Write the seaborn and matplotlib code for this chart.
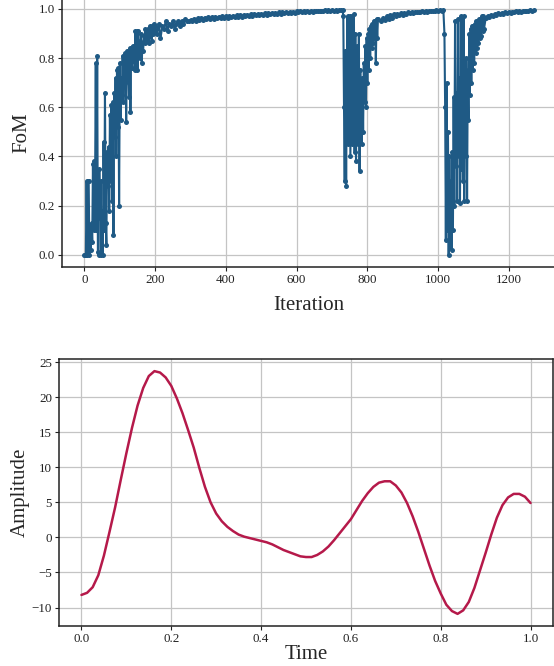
import matplotlib
matplotlib.use("Agg")
import matplotlib.pyplot as plt
import seaborn as sns
import pandas as pd

# ---------------- data: top panel (FoM vs iteration) ----------------
iter_a = list(range(0, 202, 2))
fom_a = [0.00, 0.00, 0.00, 0.30, 0.00, 0.30, 0.30, 0.00, 0.12, 0.02,
         0.13, 0.05, 0.37, 0.10, 0.38, 0.27, 0.78, 0.10, 0.81, 0.01,
         0.00, 0.35, 0.15, 0.30, 0.00, 0.18, 0.00, 0.46, 0.10, 0.66,
         0.13, 0.04, 0.42, 0.28, 0.44, 0.18, 0.57, 0.30, 0.61, 0.22,
         0.62, 0.08, 0.66, 0.48, 0.72, 0.40, 0.75, 0.52, 0.76, 0.20,
         0.78, 0.55, 0.72, 0.65, 0.81, 0.62, 0.80, 0.70, 0.82, 0.54,
         0.83, 0.71, 0.82, 0.64, 0.84, 0.58, 0.83, 0.76, 0.85, 0.79,
         0.84, 0.75, 0.91, 0.80, 0.91, 0.75, 0.91, 0.83, 0.87, 0.80,
         0.90, 0.78, 0.86, 0.83, 0.89, 0.86, 0.92, 0.87, 0.91, 0.88,
         0.92, 0.86, 0.93, 0.89, 0.92, 0.87, 0.93, 0.90, 0.94, 0.91,
         0.93]
iter_b = list(range(205, 300, 5)) + list(range(300, 735, 5))
fom_b = [0.90, 0.94, 0.88, 0.93, 0.92, 0.95, 0.91, 0.94, 0.93, 0.95,
         0.92, 0.94, 0.95, 0.93, 0.95, 0.94, 0.96, 0.95, 0.95,
         0.955, 0.95, 0.96, 0.952, 0.962, 0.955, 0.963, 0.957, 0.965, 0.958,
         0.966, 0.96, 0.967, 0.961, 0.968, 0.962, 0.969, 0.963, 0.97, 0.964,
         0.97, 0.965, 0.972, 0.966, 0.973, 0.967, 0.974, 0.968, 0.975, 0.969,
         0.976, 0.97, 0.977, 0.972, 0.978, 0.973, 0.979, 0.974, 0.98, 0.975,
         0.981, 0.976, 0.982, 0.977, 0.983, 0.978, 0.984, 0.979, 0.985, 0.98,
         0.986, 0.981, 0.987, 0.982, 0.988, 0.983, 0.988, 0.984, 0.989, 0.985,
         0.99, 0.986, 0.99, 0.987, 0.991, 0.988, 0.991, 0.988, 0.992, 0.989,
         0.992, 0.99, 0.993, 0.99, 0.993, 0.991, 0.994, 0.992, 0.994, 0.992,
         0.995, 0.993, 0.995, 0.993, 0.995, 0.994, 0.995]
iter_c = list(range(732, 832, 2))
fom_c = [0.97, 0.60, 0.30, 0.83, 0.28, 0.75, 0.97, 0.45, 0.85, 0.97,
         0.40, 0.70, 0.97, 0.45, 0.80, 0.98, 0.42, 0.90, 0.38, 0.85,
         0.60, 0.45, 0.90, 0.34, 0.75, 0.55, 0.45, 0.72, 0.50, 0.78,
         0.62, 0.85, 0.60, 0.88, 0.70, 0.90, 0.75, 0.92, 0.80, 0.93,
         0.84, 0.94, 0.86, 0.95, 0.88, 0.95, 0.78, 0.96, 0.88, 0.96]
iter_d = list(range(840, 1020, 5))
fom_d = [0.95, 0.965, 0.955, 0.97, 0.96, 0.975, 0.965, 0.978, 0.97, 0.98,
         0.975, 0.982, 0.977, 0.984, 0.98, 0.986, 0.982, 0.987, 0.984, 0.988,
         0.986, 0.989, 0.987, 0.99, 0.988, 0.991, 0.989, 0.992, 0.99, 0.993,
         0.991, 0.994, 0.992, 0.995, 0.993, 0.995]
iter_e = list(range(1018, 1132, 2))
fom_e = [0.90, 0.60, 0.06, 0.70, 0.10, 0.50, 0.00, 0.40, 0.05, 0.30,
         0.02, 0.42, 0.10, 0.64, 0.20, 0.95, 0.36, 0.66, 0.22, 0.96,
         0.40, 0.72, 0.21, 0.97, 0.35, 0.80, 0.30, 0.97, 0.22, 0.70,
         0.40, 0.80, 0.22, 0.75, 0.55,
         0.90, 0.65, 0.92, 0.70, 0.93, 0.75, 0.93, 0.78, 0.94, 0.82,
         0.95, 0.84, 0.95, 0.86, 0.96, 0.88, 0.96, 0.89, 0.97, 0.91,
         0.97, 0.92]
iter_f = list(range(1135, 1275, 5))
fom_f = [0.965, 0.972, 0.968, 0.976, 0.972, 0.979, 0.976, 0.982, 0.979, 0.984,
         0.981, 0.986, 0.983, 0.988, 0.985, 0.989, 0.987, 0.99, 0.988, 0.991,
         0.989, 0.992, 0.99, 0.993, 0.991, 0.994, 0.992, 0.994]

iterations = iter_a + iter_b + iter_c + iter_d + iter_e + iter_f
fom = fom_a + fom_b + fom_c + fom_d + fom_e + fom_f

# ---------------- data: bottom panel (amplitude vs time) ----------------
time = [i / 80 for i in range(81)]
amplitude = [-8.2, -7.9, -7.1, -5.4, -2.6, 0.8, 4.3, 8.2, 12.0, 15.6,
             18.8, 21.3, 23.0, 23.7, 23.5, 22.8, 21.6, 19.8, 17.7, 15.3,
             12.8, 9.9, 7.2, 5.0, 3.4, 2.3, 1.5, 0.9, 0.4, 0.1,
             -0.1, -0.3, -0.5, -0.7, -1.0, -1.4, -1.8, -2.1, -2.4, -2.7,
             -2.8, -2.8, -2.5, -2.0, -1.3, -0.4, 0.6, 1.6, 2.6, 3.9,
             5.2, 6.3, 7.2, 7.8, 8.0, 8.0, 7.4, 6.4, 4.9, 3.0,
             0.8, -1.6, -4.0, -6.2, -8.0, -9.6, -10.5, -10.9, -10.4, -9.2,
             -7.2, -4.7, -2.2, 0.4, 2.8, 4.6, 5.7, 6.2, 6.2, 5.8,
             4.9]

df_top = pd.DataFrame({"Iteration": iterations, "FoM": fom})
df_bot = pd.DataFrame({"Time": time, "Amplitude": amplitude})

sns.set_theme(style="whitegrid")
plt.rcParams["font.family"] = ["Liberation Serif", "DejaVu Serif"]
plt.rcParams.update({
    "axes.edgecolor": "#222222",
    "axes.linewidth": 1.1,
    "grid.color": "#c4c4c4",
    "grid.linewidth": 0.9,
    "xtick.bottom": True,
    "ytick.left": True,
    "xtick.major.size": 3,
    "ytick.major.size": 3,
    "xtick.major.width": 0.8,
    "ytick.major.width": 0.8,
    "xtick.color": "#222222",
    "ytick.color": "#222222",
    "axes.unicode_minus": True,
})

fig = plt.figure(figsize=(5.54, 6.66), dpi=100)
W, H = 554, 666
ax1 = fig.add_axes([62 / W, (H - 267) / H, (556 - 62) / W, (267 + 2) / H])
ax2 = fig.add_axes([59 / W, (H - 626) / H, (553 - 59) / W, (626 - 359) / H])

sns.lineplot(data=df_top, x="Iteration", y="FoM", ax=ax1, color="#1f5a85",
             marker="o", markersize=3.6, markeredgewidth=0, linewidth=1.5,
             estimator=None, sort=False)
sns.lineplot(data=df_bot, x="Time", y="Amplitude", ax=ax2, color="#b5194a",
             linewidth=1.8, estimator=None, sort=False)

ax1.set_xticks([0, 200, 400, 600, 800, 1000, 1200])
ax1.set_yticks([0.0, 0.2, 0.4, 0.6, 0.8, 1.0])
ax2.set_xticks([0.0, 0.2, 0.4, 0.6, 0.8, 1.0])
ax2.set_yticks([-10, -5, 0, 5, 10, 15, 20, 25])

for ax in (ax1, ax2):
    ax.tick_params(labelsize=9.4, pad=2)
    ax.xaxis.label.set_size(15)
    ax.yaxis.label.set_size(15)

ax1.set_xlabel("Iteration", labelpad=7)
ax1.set_ylabel("FoM", labelpad=5)
ax2.set_xlabel("Time", labelpad=0)
ax2.set_ylabel("Amplitude", labelpad=1)

fig.savefig("out.png", dpi=100)
